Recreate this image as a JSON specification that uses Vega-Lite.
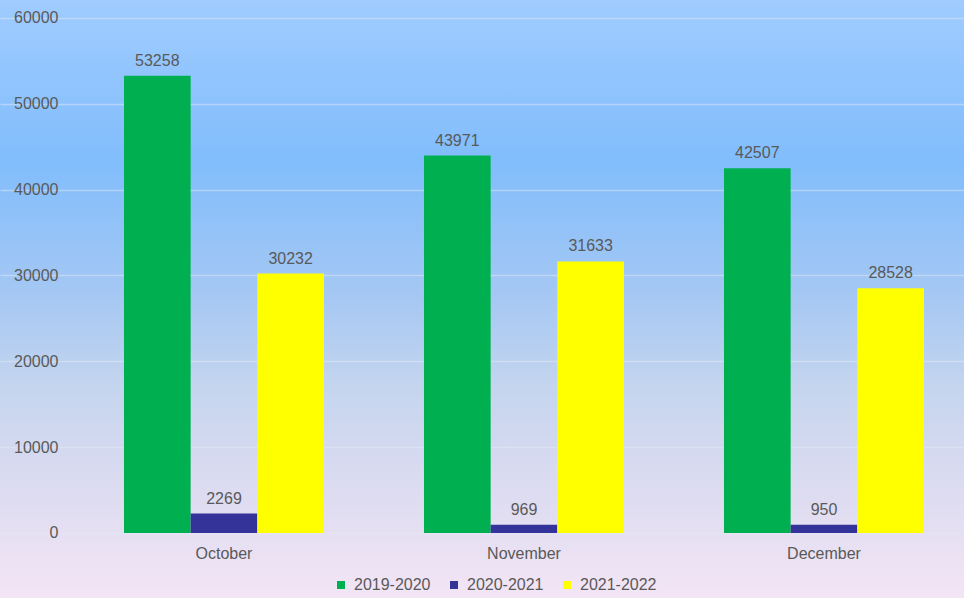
{
  "$schema": "https://vega.github.io/schema/vega-lite/v6.json",
  "width": 964,
  "height": 598,
  "autosize": {"type": "none"},
  "padding": 0,
  "background": "#cdd8f0",
  "config": {
    "view": {
      "stroke": null,
      "fill": {
        "gradient": "linear",
        "x1": 0, "y1": 0, "x2": 0, "y2": 1,
        "stops": [
          {"offset": 0, "color": "#a0ccff"},
          {"offset": 0.27, "color": "#81bdfc"},
          {"offset": 0.5, "color": "#a6c8f3"},
          {"offset": 0.65, "color": "#c5d5ee"},
          {"offset": 0.83, "color": "#dedcf1"},
          {"offset": 1, "color": "#f3e5f5"}
        ]
      }
    },
    "font": "Liberation Sans",
    "axis": {
      "labelFont": "Liberation Sans",
      "labelFontSize": 16,
      "labelColor": "#595959",
      "ticks": false,
      "domain": false,
      "title": null
    },
    "legend": {
      "labelFont": "Liberation Sans",
      "labelFontSize": 16,
      "labelColor": "#595959"
    }
  },
  "data": {
    "values": [
      {"month": "October", "season": "2019-2020", "visitors": 53258},
      {"month": "October", "season": "2020-2021", "visitors": 2269},
      {"month": "October", "season": "2021-2022", "visitors": 30232},
      {"month": "November", "season": "2019-2020", "visitors": 43971},
      {"month": "November", "season": "2020-2021", "visitors": 969},
      {"month": "November", "season": "2021-2022", "visitors": 31633},
      {"month": "December", "season": "2019-2020", "visitors": 42507},
      {"month": "December", "season": "2020-2021", "visitors": 950},
      {"month": "December", "season": "2021-2022", "visitors": 28528}
    ]
  },
  "encoding": {
    "x": {
      "field": "month",
      "type": "nominal",
      "sort": ["October", "November", "December"],
      "scale": {"paddingInner": 0.33333, "paddingOuter": 0.27333, "align": 0.756},
      "axis": {"orient": "bottom", "offset": -65, "labelAngle": 0, "labelPadding": 12, "grid": false}
    },
    "xOffset": {
      "field": "season",
      "type": "nominal",
      "scale": {"paddingInner": 0, "paddingOuter": 0}
    },
    "y": {
      "field": "visitors",
      "type": "quantitative",
      "stack": null,
      "scale": {"domain": [-7573, 62097], "nice": false, "zero": false},
      "axis": {
        "orient": "left",
        "offset": -73,
        "labelPadding": 15,
        "values": [0, 10000, 20000, 30000, 40000, 50000, 60000],
        "format": "d",
        "grid": true,
        "gridColor": "#e6ecf6",
        "gridOpacity": 0.45,
        "gridWidth": 1.5
      }
    }
  },
  "layer": [
    {
      "mark": {"type": "bar"},
      "encoding": {
        "color": {
          "field": "season",
          "type": "nominal",
          "scale": {
            "domain": ["2019-2020", "2020-2021", "2021-2022"],
            "range": ["#00b050", "#333399", "#ffff00"]
          },
          "legend": {
            "orient": "none",
            "direction": "horizontal",
            "legendX": 333,
            "legendY": 577,
            "title": null,
            "symbolType": "square",
            "symbolSize": 64,
            "symbolStrokeWidth": 0,
            "labelOffset": 5,
            "columnPadding": 15
          }
        }
      }
    },
    {
      "mark": {
        "type": "text",
        "fontSize": 16,
        "color": "#595959",
        "baseline": "alphabetic",
        "dy": -10
      },
      "encoding": {
        "text": {"field": "visitors", "type": "quantitative", "format": "d"}
      }
    }
  ]
}
